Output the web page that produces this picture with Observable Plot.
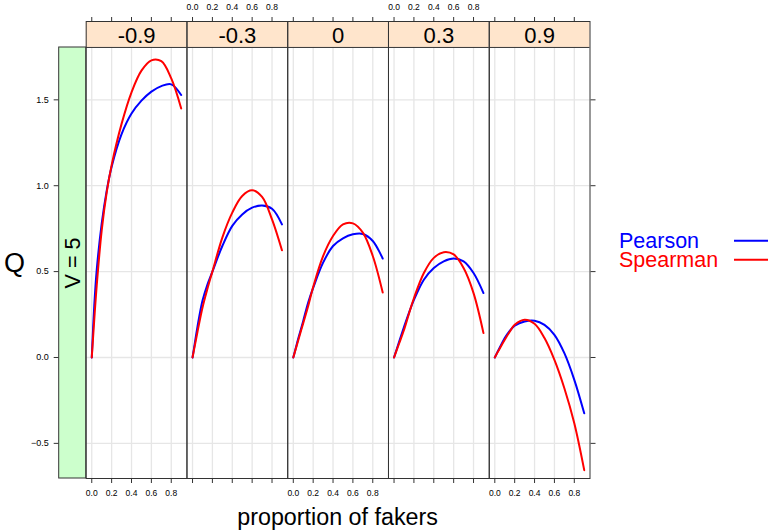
<!DOCTYPE html>
<html><head><meta charset="utf-8">
<script src="https://cdn.jsdelivr.net/npm/d3@7"></script>
<script src="https://cdn.jsdelivr.net/npm/@observablehq/plot@0.6"></script>
<style>
body{margin:0;background:#fff;font-family:"Liberation Sans",Arial,sans-serif;}
#wrap{position:relative;width:772px;height:532px;}
#wrap svg{position:absolute;left:0;top:0;}
</style></head><body><div id="wrap"></div>
<script>
// facet panels (correlation) and row strip
const panels = ["-0.9", "-0.3", "0", "0.3", "0.9"];
const rowStrip = "V = 5";
const methods = ["Pearson", "Spearman"];
const methodColors = ["#0000ff", "#ff0000"];
// proportion of fakers (x)
const proportions = [0, 0.025, 0.05, 0.1, 0.15, 0.2, 0.3, 0.4, 0.5, 0.6, 0.7, 0.8, 0.9];
// Q values
const pearsonM09 = [0, 0.30, 0.51, 0.78, 0.97, 1.11, 1.30, 1.42, 1.495, 1.548, 1.58, 1.59, 1.528];
const spearmanM09 = [0, 0.22, 0.42, 0.74, 0.96, 1.12, 1.36, 1.544, 1.67, 1.73, 1.725, 1.625, 1.45];
const pearsonM03 = [0, 0.09, 0.18, 0.33, 0.425, 0.50, 0.649, 0.766, 0.833, 0.872, 0.885, 0.866, 0.775];
const spearmanM03 = [0, 0.075, 0.15, 0.29, 0.40, 0.50, 0.698, 0.843, 0.94, 0.973, 0.935, 0.804, 0.624];
const pearson0 = [0, 0.055, 0.11, 0.213, 0.32, 0.405, 0.552, 0.649, 0.694, 0.717, 0.719, 0.678, 0.576];
const spearman0 = [0, 0.05, 0.10, 0.20, 0.30, 0.41, 0.59, 0.707, 0.775, 0.781, 0.727, 0.591, 0.378];
const pearsonP03 = [0, 0.045, 0.09, 0.177, 0.26, 0.335, 0.453, 0.521, 0.56, 0.576, 0.56, 0.492, 0.375];
const spearmanP03 = [0, 0.04, 0.08, 0.16, 0.255, 0.345, 0.492, 0.58, 0.613, 0.60, 0.521, 0.375, 0.142];
const pearsonP09 = [0, 0.03, 0.058, 0.113, 0.155, 0.185, 0.21, 0.214, 0.19, 0.132, 0.025, -0.13, -0.325];
const spearmanP09 = [0, 0.027, 0.053, 0.103, 0.15, 0.19, 0.22, 0.196, 0.113, -0.014, -0.179, -0.383, -0.656];
// ticks
const xTicks = [0, 0.2, 0.4, 0.6, 0.8];
const yTicks = [-0.5, 0, 0.5, 1, 1.5];
const bottomLabelPanels = ["-0.9", "0", "0.9"];
const topLabelPanels = ["-0.3", "0.3"];

const pearsonSeries = [pearsonM09, pearsonM03, pearson0, pearsonP03, pearsonP09];
const spearmanSeries = [spearmanM09, spearmanM03, spearman0, spearmanP03, spearmanP09];
const rows = [];
panels.forEach((panel, i) => {
  proportions.forEach((p, j) => {
    rows.push({panel, method: "Pearson", p, q: pearsonSeries[i][j]});
    rows.push({panel, method: "Spearman", p, q: spearmanSeries[i][j]});
  });
});
const bottomLabels = bottomLabelPanels.flatMap(panel => xTicks.map(v => ({panel, v})));
const topLabels = topLabelPanels.flatMap(panel => xTicks.map(v => ({panel, v})));

const xDom = [-0.056, 0.958];
const yDom = [-0.7045, 1.956];
const stripBottom = 1.805;
const fmt = d3.format(".1f");
const font = "Liberation Sans, Arial, Helvetica, sans-serif";

const chart = Plot.plot({
  width: 772, height: 532,
  marginTop: 21, marginBottom: 54, marginLeft: 85.7, marginRight: 182.5,
  style: {fontFamily: font, background: "white", overflow: "visible"},
  fx: {domain: panels, padding: 0, round: false, axis: null, label: null},
  x: {domain: xDom, label: null},
  y: {domain: yDom, label: null},
  color: {domain: methods, range: methodColors},
  marks: [
    Plot.gridX(xTicks, {stroke: "#e6e6e6", strokeOpacity: 1, strokeWidth: 1.3}),
    Plot.gridY(yTicks, {stroke: "#e6e6e6", strokeOpacity: 1, strokeWidth: 1.3}),
    Plot.rect(panels, {fx: d => d, x1: () => xDom[0], x2: () => xDom[1], y1: () => stripBottom, y2: () => yDom[1], fill: "#ffe5cc"}),
    Plot.ruleY([stripBottom], {stroke: "#333"}),
    Plot.text(panels, {fx: d => d, text: d => d, frameAnchor: "top", lineAnchor: "middle", dy: 14, fontSize: 22, fill: "#000"}),
    Plot.line(rows, {fx: "panel", x: "p", y: "q", z: "method", stroke: "method", strokeWidth: 2, curve: "catmull-rom"}),
    Plot.frame({stroke: "#333"}),
    Plot.axisX({anchor: "top", ticks: xTicks, tickSize: 5, tickFormat: () => "", label: null, stroke: "#333"}),
    Plot.axisX({anchor: "bottom", ticks: xTicks, tickSize: 5, tickFormat: () => "", label: null, stroke: "#333"}),
    Plot.text(topLabels, {fx: "panel", x: "v", text: d => fmt(d.v), frameAnchor: "top", lineAnchor: "middle", dy: -14, fontSize: 8.5, fill: "#000"}),
    Plot.text(bottomLabels, {fx: "panel", x: "v", text: d => fmt(d.v), frameAnchor: "bottom", lineAnchor: "middle", dy: 14.7, fontSize: 8.5, fill: "#000"}),
    Plot.axisY({anchor: "left", ticks: yTicks, tickSize: 5, dx: -27, tickPadding: 5.5, tickFormat: fmt, fontSize: 9, label: null, stroke: "#333"}),
    Plot.axisY({anchor: "right", ticks: yTicks, tickSize: 5, tickFormat: () => "", label: null, stroke: "#333"})
  ]
});
document.getElementById("wrap").appendChild(chart);

// outer annotations: row strip, axis titles, legend
const svg = d3.select(chart);
const g = svg.append("g").attr("font-family", font);
g.append("rect").attr("x", 58.7).attr("y", 47).attr("width", 27).attr("height", 431)
  .attr("fill", "#ccffcc").attr("stroke", "#333");
g.append("text").attr("transform", "translate(72,263) rotate(-90)").attr("text-anchor", "middle")
  .attr("dy", "0.36em").attr("font-size", 21.5).attr("fill", "#000").text(rowStrip);
g.append("text").attr("x", 14.5).attr("y", 272).attr("text-anchor", "middle")
  .attr("font-size", 27).attr("fill", "#000").text("Q");
g.append("text").attr("x", 337.6).attr("y", 525).attr("text-anchor", "middle")
  .attr("font-size", 23.3).attr("fill", "#000").text("proportion of fakers");
methods.forEach((m, i) => {
  const yb = 247.7 + i * 19;
  g.append("text").attr("x", 619).attr("y", yb).attr("text-anchor", "start").attr("font-size", 21.5)
    .attr("fill", methodColors[i]).text(m);
  g.append("line").attr("x1", 734).attr("x2", 768).attr("y1", yb - 7).attr("y2", yb - 7)
    .attr("stroke", methodColors[i]).attr("stroke-width", 2);
});
</script></body></html>
